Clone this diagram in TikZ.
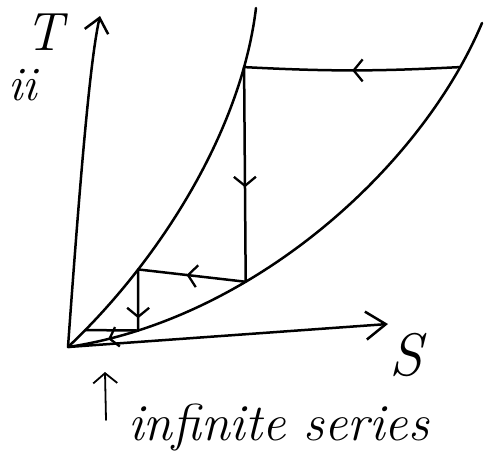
\documentclass[tikz,border=0pt]{standalone}
\usetikzlibrary{arrows.meta,decorations.markings}
\tikzset{
  pen/.style={line width=2.5pt, line cap=round, line join=round},
  thinpen/.style={line width=1.8pt, line cap=round, line join=round},
  midarrow/.style={postaction={decorate}, decoration={markings, mark=at position #1 with {\arrow{Straight Barb[length=9pt,width=22pt,line width=2.3pt]}}}},
  backarrow/.style={postaction={decorate}, decoration={markings, mark=at position #1 with {\arrowreversed{Straight Barb[length=8pt,width=20pt,line width=2.3pt]}}}},
  hand/.style={inner sep=0pt, font=\itshape},
}
\begin{document}
\begin{tikzpicture}[x=1pt,y=-1pt]
\fill[white] (0,0) rectangle (493,461);
\useasboundingbox (0,0) rectangle (493,461);

% origin and axis ends
\coordinate (O) at (68,347);
\coordinate (Ttop) at (100,16);
\coordinate (Send) at (388,324);

% T axis
\draw[pen, -{Straight Barb[length=14pt,width=24pt,line width=2.5pt]}] (O) .. controls (80,180) and (90,60) .. (Ttop);
% S axis
\draw[pen, -{Straight Barb[length=20pt,width=28pt,line width=2.5pt]}] (O) -- (Send);

% right curve
\draw[pen, backarrow=0.075] (O) .. controls (250,320) and (420,170) ..
   coordinate[pos=0.13] (E) coordinate[pos=0.34] (B) coordinate[pos=0.9] (A) (482,23);
% left curve
\draw[pen] (O) .. controls (150,270) and (240,140) ..
   coordinate[pos=0.07] (F) coordinate[pos=0.285] (D) coordinate[pos=0.85] (C) (256,8);

% cycle steps
\draw[pen, midarrow=0.5] (A) to[bend left=3] (C);
\draw[pen, midarrow=0.56] (C) -- (B);
\draw[pen, midarrow=0.55] (B) -- (D);
\draw[pen, midarrow=0.8] (D) -- (E);
\draw[pen] (F) -- (E);

% labels
\node[hand, font=\fontsize{54}{58}\selectfont\itshape, anchor=base] (Tlab) at (44,50) {T};
\node[hand, font=\fontsize{48}{52}\selectfont\itshape, anchor=base west] (iilab) at (8,100) {ii};
\node[hand, font=\fontsize{60}{64}\selectfont\itshape, anchor=base] (Slab) at (406,375) {S};

% infinite series note
\coordinate (u1) at (106,420);
\coordinate (u2) at (105,372);
\draw[thinpen, -{Straight Barb[length=10pt,width=24pt,line width=1.8pt]}] (u1) -- (u2);
\node[hand, font=\fontsize{52}{56}\selectfont\itshape, anchor=base west] (note) at (128,440) {infinite series};
\end{tikzpicture}
\end{document}
